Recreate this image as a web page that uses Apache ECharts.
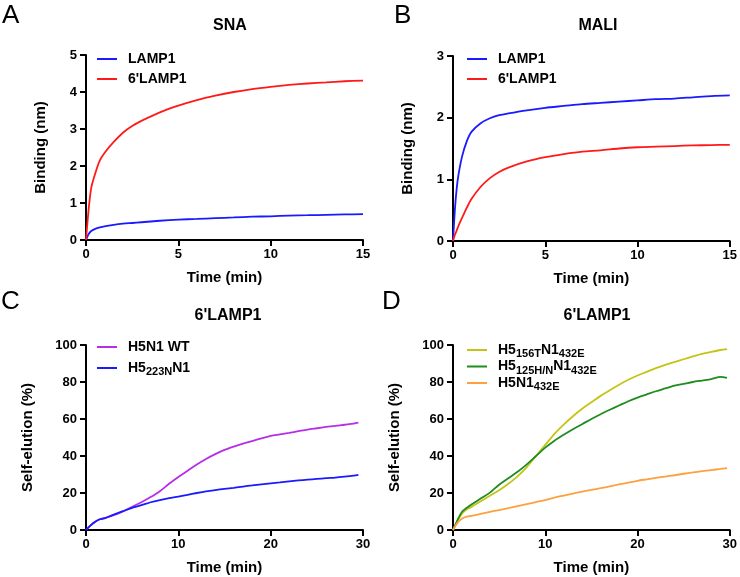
<!DOCTYPE html>
<html>
<head>
    <meta charset="utf-8">
    <title>Binding and self-elution</title>
    <script src="https://cdn.jsdelivr.net/npm/echarts@6/dist/echarts.min.js"></script>
    <style>
        html, body { margin: 0; padding: 0; background: #fff; }
        #chart { width: 740px; height: 577px; }
    </style>
</head>
<body>
<div id="chart"></div>
<script>
    // panel A / B: biolayer binding, time in min
    var timeAB = [0, 0.1, 0.2, 0.3, 0.5, 0.75, 1, 1.5, 2, 2.5, 3, 4, 5, 6, 7, 8, 9, 10, 11, 12, 13, 14, 15];
    var snaLamp1 = [0, 0.12, 0.2, 0.25, 0.3, 0.34, 0.37, 0.41, 0.44, 0.46, 0.48, 0.52, 0.55, 0.57, 0.59, 0.61, 0.63, 0.64, 0.66, 0.67, 0.68, 0.69, 0.70];
    var sna6Lamp1 = [0, 0.6, 1.1, 1.45, 1.8, 2.15, 2.35, 2.65, 2.9, 3.08, 3.22, 3.45, 3.63, 3.78, 3.9, 4.0, 4.08, 4.14, 4.19, 4.23, 4.26, 4.29, 4.31];
    var maliLamp1 = [0, 0.5, 0.85, 1.08, 1.38, 1.62, 1.77, 1.91, 1.99, 2.04, 2.07, 2.12, 2.16, 2.19, 2.22, 2.24, 2.26, 2.28, 2.3, 2.31, 2.33, 2.35, 2.36];
    var mali6Lamp1 = [0, 0.1, 0.17, 0.25, 0.38, 0.54, 0.68, 0.88, 1.02, 1.12, 1.19, 1.29, 1.36, 1.41, 1.45, 1.47, 1.5, 1.52, 1.53, 1.54, 1.55, 1.555, 1.56];

    // panel C: self-elution
    var timeC = [0, 0.5, 1, 1.5, 2, 3, 4, 5, 6, 7, 8, 9, 10, 11, 12, 13, 14, 15, 16, 17, 18, 19, 20, 21, 22, 23, 24, 25, 26, 27, 28, 29, 29.5];
    var h5n1Wt = [0, 2.5, 4.5, 5.8, 6.5, 8, 10, 12.6, 15, 17.8, 21, 25, 28.7, 32, 35.4, 38.4, 41, 43.3, 45.1, 46.7, 48.1, 49.5, 50.9, 51.7, 52.5, 53.4, 54.3, 55, 55.7, 56.3, 56.9, 57.5, 58];
    var h5223n = [0, 2.5, 4.5, 5.8, 6.3, 8.3, 10.2, 12, 13.4, 15, 16.2, 17.2, 18, 19, 20, 20.9, 21.6, 22.2, 22.8, 23.5, 24.1, 24.7, 25.2, 25.7, 26.3, 26.8, 27.2, 27.6, 28, 28.3, 28.8, 29.4, 29.8];

    // panel D
    var timeD = [0, 0.5, 1, 1.5, 2, 3, 4, 5, 6, 7, 8, 9, 10, 11, 12, 13, 14, 15, 16, 17, 18, 19, 20, 21, 22, 23, 24, 25, 26, 27, 28, 29, 29.7];
    var h5156t = [0, 5, 9, 11.2, 12.5, 15.5, 18.5, 21.5, 25, 29, 34, 40, 46, 52, 57, 61.5, 65.5, 69, 72.5, 75.5, 78.5, 81.2, 83.5, 85.5, 87.5, 89.3, 90.8, 92.3, 93.8, 95.2, 96.3, 97.3, 97.8];
    var h5125hn = [0, 5.5, 10, 12, 13.8, 17, 20.2, 24.5, 28, 31.5, 35.5, 40, 44.5, 48.3, 51.5, 54.5, 57.2, 60, 62.6, 65, 67.3, 69.6, 71.6, 73.3, 75, 76.5, 78, 79, 80, 80.8, 81.6, 82.8, 82.2];
    var h5n1432e = [0, 4, 6.2, 7.2, 7.6, 8.7, 9.8, 10.8, 11.8, 12.9, 14, 15.1, 16.2, 17.5, 18.6, 19.7, 20.8, 21.7, 22.6, 23.6, 24.6, 25.6, 26.6, 27.4, 28.2, 28.9, 29.6, 30.4, 31.1, 31.8, 32.4, 33, 33.5];

    var font = 'Liberation Sans, Arial, sans-serif';

    function pairs(xs, ys) {
        return xs.map(function (x, i) { return [x, ys[i]]; });
    }

    // legend labels (series names are unique ids)
    var labels = {
        aL: 'LAMP1', a6: "6'LAMP1",
        bL: 'LAMP1', b6: "6'LAMP1",
        cW: 'H5N1 WT', c2: 'H5{sub|223N}N1',
        d1: 'H5{sub|156T}N1{sub|432E}', d2: 'H5{sub|125H/N}N1{sub|432E}', d3: 'H5N1{sub|432E}'
    };

    var grids = [
        {left: 86, top: 55, width: 277, height: 185},
        {left: 453, top: 56, width: 278, height: 185},
        {left: 86, top: 345, width: 277, height: 185},
        {left: 453, top: 345, width: 278, height: 185}
    ];

    function xAxis(idx, max, step) {
        return {
            type: 'value', gridIndex: idx, min: 0, max: max, interval: step,
            name: 'Time (min)', nameLocation: 'middle', nameGap: 30,
            nameTextStyle: {fontFamily: font, fontWeight: 'bold', fontSize: 15, color: '#000'},
            axisLine: {lineStyle: {color: '#000', width: 2}},
            axisTick: {length: 6, lineStyle: {color: '#000', width: 2}},
            axisLabel: {fontFamily: font, fontWeight: 'bold', fontSize: 13, color: '#000', margin: 8},
            splitLine: {show: false}
        };
    }

    function yAxis(idx, max, step, name, gap) {
        return {
            type: 'value', gridIndex: idx, min: 0, max: max, interval: step,
            name: name, nameLocation: 'middle', nameGap: gap,
            nameTextStyle: {fontFamily: font, fontWeight: 'bold', fontSize: 15, color: '#000'},
            axisLine: {show: true, lineStyle: {color: '#000', width: 2}},
            axisTick: {show: true, length: 6, lineStyle: {color: '#000', width: 2}},
            axisLabel: {fontFamily: font, fontWeight: 'bold', fontSize: 13, color: '#000', margin: 9},
            splitLine: {show: false}
        };
    }

    function line(id, idx, xs, ys, color) {
        return {
            name: id, type: 'line', xAxisIndex: idx, yAxisIndex: idx,
            data: pairs(xs, ys), showSymbol: false, smooth: 0.3,
            lineStyle: {color: color, width: 1.8}, itemStyle: {color: color}
        };
    }

    function legend(ids, left, top, gap) {
        return {
            data: ids, orient: 'vertical', left: left, top: top, itemGap: gap,
            icon: 'rect', itemWidth: 20, itemHeight: 2,
            formatter: function (n) { return labels[n]; },
            textStyle: {
                fontFamily: font, fontWeight: 'bold', fontSize: 14, color: '#000', padding: [0, 0, 0, 6],
                rich: {sub: {fontFamily: font, fontWeight: 'bold', fontSize: 11, color: '#000', padding: [8, 0, 0, 0]}}
            }
        };
    }

    var titleStyle = {fontFamily: font, fontWeight: 'bold', fontSize: 16, color: '#000'};
    var letterStyle = {fontFamily: font, fontWeight: 'normal', fontSize: 26, color: '#000'};

    var option = {
        animation: false,
        title: [
            {text: 'A', left: 2, top: 3, padding: 0, textStyle: letterStyle},
            {text: 'B', left: 394, top: 3, padding: 0, textStyle: letterStyle},
            {text: 'C', left: 1, top: 289, padding: 0, textStyle: letterStyle},
            {text: 'D', left: 382, top: 289, padding: 0, textStyle: letterStyle},
            {text: 'SNA', left: 225, top: 13, textAlign: 'center', textStyle: titleStyle},
            {text: 'MALI', left: 593, top: 13, textAlign: 'center', textStyle: titleStyle},
            {text: "6'LAMP1", left: 223, top: 303, textAlign: 'center', textStyle: titleStyle},
            {text: "6'LAMP1", left: 592, top: 303, textAlign: 'center', textStyle: titleStyle}
        ],
        legend: [
            legend(['aL', 'a6'], 92, 47, 6),
            legend(['bL', 'b6'], 462, 47, 6),
            legend(['cW', 'c2'], 92, 335, 7),
            legend(['d1', 'd2', 'd3'], 462, 338, 0)
        ],
        grid: grids,
        xAxis: [xAxis(0, 15, 5), xAxis(1, 15, 5), xAxis(2, 30, 10), xAxis(3, 30, 10)],
        yAxis: [
            yAxis(0, 5, 1, 'Binding (nm)', 38),
            yAxis(1, 3, 1, 'Binding (nm)', 38),
            yAxis(2, 100, 20, 'Self-elution (%)', 51),
            yAxis(3, 100, 20, 'Self-elution (%)', 51)
        ],
        series: [
            line('aL', 0, timeAB, snaLamp1, '#1a1aff'),
            line('a6', 0, timeAB, sna6Lamp1, '#ff1a1a'),
            line('bL', 1, timeAB, maliLamp1, '#1a1aff'),
            line('b6', 1, timeAB, mali6Lamp1, '#ff1a1a'),
            line('cW', 2, timeC, h5n1Wt, '#b62ee8'),
            line('c2', 2, timeC, h5223n, '#1a1aff'),
            line('d1', 3, timeD, h5156t, '#c4c416'),
            line('d2', 3, timeD, h5125hn, '#1e8c1e'),
            line('d3', 3, timeD, h5n1432e, '#ffa040')
        ]
    };

    var chart = echarts.init(document.getElementById('chart'));
    chart.setOption(option);
</script>
</body>
</html>
